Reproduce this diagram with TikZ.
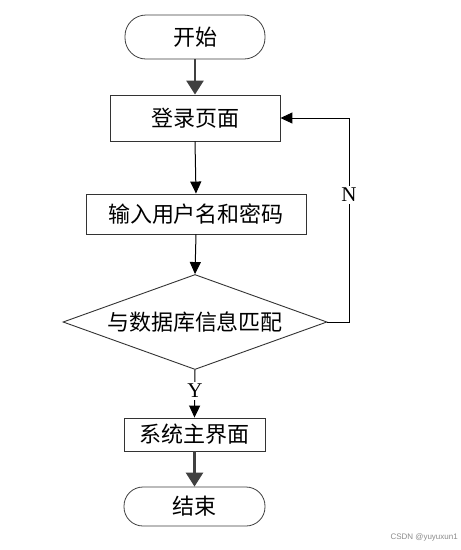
\documentclass[tikz,border=0pt]{standalone}
\usepackage{fontspec}
\setmainfont{Liberation Serif}
\newfontfamily\cjk{Noto Sans CJK SC}
\newfontfamily\wmfont{Liberation Sans}
\usetikzlibrary{shapes.geometric,arrows.meta}
\begin{document}
\begin{tikzpicture}[x=1pt,y=-1pt,
  txt/.style={font=\cjk\fontsize{22}{26}\selectfont},
  term/.style={txt,draw=black!75,line width=0.8pt,rounded corners=21pt,inner sep=0pt},
  boxx/.style={txt,draw=black!80,line width=0.9pt,inner sep=0pt},
  dia/.style={txt,draw=black!80,line width=0.9pt,shape=diamond,aspect=2.78,inner sep=0pt,minimum width=264pt,minimum height=95pt},
  thick arr/.style={draw=black!75,line width=2.6pt,-{Triangle[width=17pt,length=14pt]}},
  thin arr/.style={draw=black,line width=1pt,-{Triangle[width=11pt,length=12pt]}},
  lbl/.style={font=\fontsize{21}{24}\selectfont,fill=white,inner sep=2pt}
]
\path[use as bounding box,fill=white] (0,0) rectangle (461,550);

\node[term,minimum width=140pt,minimum height=44pt] (start) at (195,37) {开始};
\node[boxx,minimum width=170pt,minimum height=46pt] (login) at (195,118) {登录页面};
\node[boxx,minimum width=220pt,minimum height=40pt] (input) at (196,214) {输入用户名和密码};
\node[dia] (match) at (195,322) {与数据库信息匹配};
\node[boxx,minimum width=141pt,minimum height=33pt] (main) at (194.5,434.5) {系统主界面};
\node[term,minimum width=141pt,minimum height=39pt,rounded corners=19pt] (end) at (194.5,506.5) {结束};

\draw[thick arr] (start.south) -- (login.north);
\draw[thin arr] (login.south) -- (input.north);
\draw[thin arr] (input.south) -- (match.north);
\draw[thin arr] (match.south) -- (main.north);
\node[lbl] (y) at (195,391) {Y};
\draw[thick arr] (main.south) -- (end.north);

\coordinate (rc) at (349,322);
\draw[thin arr] (match.east) -- (rc) |- (login.east);
\node[lbl] (n) at (349,195) {N};

\node[font=\wmfont\fontsize{8}{9}\selectfont,text=black!45,anchor=east,inner sep=0pt] (wm) at (458,537) {CSDN @yuyuxun1};
\end{tikzpicture}
\end{document}
